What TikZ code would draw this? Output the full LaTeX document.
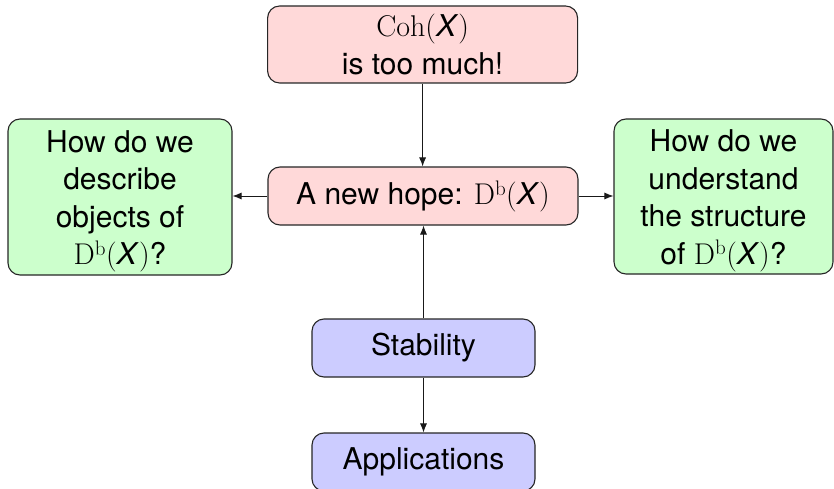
\documentclass[tikz,border=0pt]{standalone}
\usepackage{fontspec}
\setsansfont{TeX Gyre Heros}
\usetikzlibrary{arrows.meta}

\definecolor{pinkfill}{RGB}{255,217,217}
\definecolor{greenfill}{RGB}{204,255,204}
\definecolor{bluefill}{RGB}{204,204,255}

% upright serif symbols with a sans italic X
\newcommand{\Xv}{\textit{X}}
\newcommand{\Coh}{{\rmfamily Coh(}\Xv{\rmfamily )}}
\newcommand{\Db}{{\rmfamily D\textsuperscript{b}(}\Xv{\rmfamily )}}
% taller first line, lowers a text block a little inside its box
\newcommand{\topstrut}{\rule{0pt}{30pt}}

\tikzset{
  box/.style={draw=black!85, line width=1.1pt, rounded corners=12pt,
    align=center, inner sep=0pt,
    font=\sffamily\fontsize{30}{37.5}\selectfont},
  pinkbox/.style={box, fill=pinkfill},
  greenbox/.style={box, fill=greenfill},
  bluebox/.style={box, fill=bluefill},
  link/.style={draw=black!90, line width=0.9pt,
    -{Latex[length=9pt,width=7pt]}},
}

\begin{document}
\begin{tikzpicture}[x=1pt, y=1pt]
  \useasboundingbox (0,0) rectangle (834,488);

  % central chain
  \node[pinkbox, minimum width=310pt, minimum height=77pt] (coh) at (422.6,443.5)
    {\Coh\\ is too much!};
  \node[pinkbox, minimum width=310pt, minimum height=58pt] (hope) at (423,292)
    {A new hope: \Db};
  \node[bluebox, minimum width=223pt, minimum height=58pt] (stab) at (423.5,140)
    {Stability};
  \node[bluebox, minimum width=223pt, minimum height=58pt] (appl) at (423.5,26)
    {Applications};

  % the two questions
  \node[greenbox, minimum width=224pt, minimum height=156pt] (desc) at (120,291)
    {\topstrut How do we\\ describe\\ objects of\\ \Db?};
  \node[greenbox, minimum width=219pt, minimum height=155pt] (struct) at (723.5,291.5)
    {\topstrut How do we\\ understand\\ the structure\\ of \Db?};

  % connectors
  \draw[link] (coh.south) -- (coh.south |- hope.north);
  \draw[link] (hope.west) -- (hope.west -| desc.east);
  \draw[link] (hope.east) -- (hope.east -| struct.west);
  \draw[link] (stab.north) -- (stab.north |- hope.south);
  \draw[link] (stab.south) -- (stab.south |- appl.north);
\end{tikzpicture}
\end{document}
